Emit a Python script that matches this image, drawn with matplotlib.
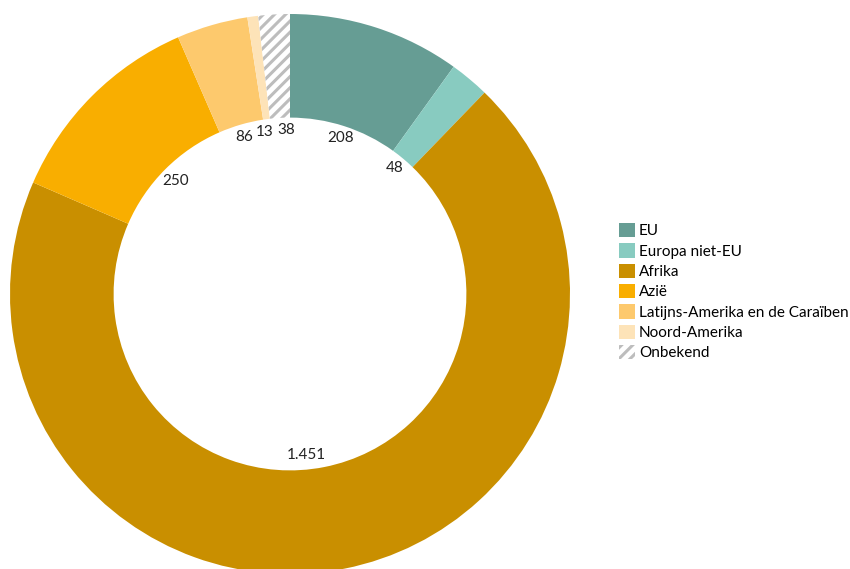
import matplotlib
matplotlib.use("Agg")
import matplotlib.pyplot as plt
from matplotlib.patches import Patch

categories = ["EU", "Europa niet-EU", "Afrika", "Azië",
              "Latijns-Amerika en de Caraïben", "Noord-Amerika", "Onbekend"]
values = [208, 48, 1451, 250, 86, 13, 38]
labels = ["208", "48", "1.451", "250", "86", "13", "38"]
colors = ["#669d94", "#88cbc0", "#c98f00", "#f9ae00", "#fdc96d", "#fde3b8", "white"]

plt.rcParams['font.family'] = ['Lato', 'DejaVu Sans']
plt.rcParams['hatch.linewidth'] = 2.2
plt.rcParams['hatch.color'] = '#bdbdbd'

fig = plt.figure(figsize=(8.5, 5.69), dpi=100)
W, H = 850, 569
ax = fig.add_axes([10 / W, (H - 574) / H, 560 / W, 560 / H])

wedges, texts = ax.pie(values, colors=colors, startangle=90, counterclock=False,
                       radius=1, wedgeprops=dict(width=0.37, linewidth=0),
                       labels=labels, labeldistance=0.585,
                       textprops=dict(fontsize=11, color="#222222"))
for t in texts:
    t.set_horizontalalignment('center')
    t.set_verticalalignment('center')
# small nudges (in pixels) to keep neighbouring labels apart, like the reference
nudges = {"1.451": (-16, 0), "13": (-4, 0), "38": (6, 0), "250": (2, -3)}
px = 1 / 280
for t in texts:
    if t.get_text() in nudges:
        dx, dy = nudges[t.get_text()]
        x, y = t.get_position()
        t.set_position((x + dx * px, y + dy * px))
wedges[-1].set_hatch('///')
wedges[-1].set_edgecolor('#bdbdbd')
wedges[-1].set_linewidth(0)
ax.set_xlim(-1, 1)
ax.set_ylim(-1, 1)
ax.set_aspect('equal')
ax.axis('off')

handles = []
for c, cat in zip(colors, categories):
    if cat == "Onbekend":
        handles.append(Patch(facecolor='white', edgecolor='#bdbdbd', hatch='///',
                             linewidth=0, label=cat))
    else:
        handles.append(Patch(facecolor=c, edgecolor='none', label=cat))
fig.legend(handles=handles, loc='upper left', bbox_to_anchor=(616 / W, 1 - 220 / H),
           frameon=False, fontsize=11, handlelength=1.05, handleheight=1.05,
           handletextpad=0.25, labelspacing=0.33, borderaxespad=0, borderpad=0.2)

fig.savefig("out.png", dpi=100)
